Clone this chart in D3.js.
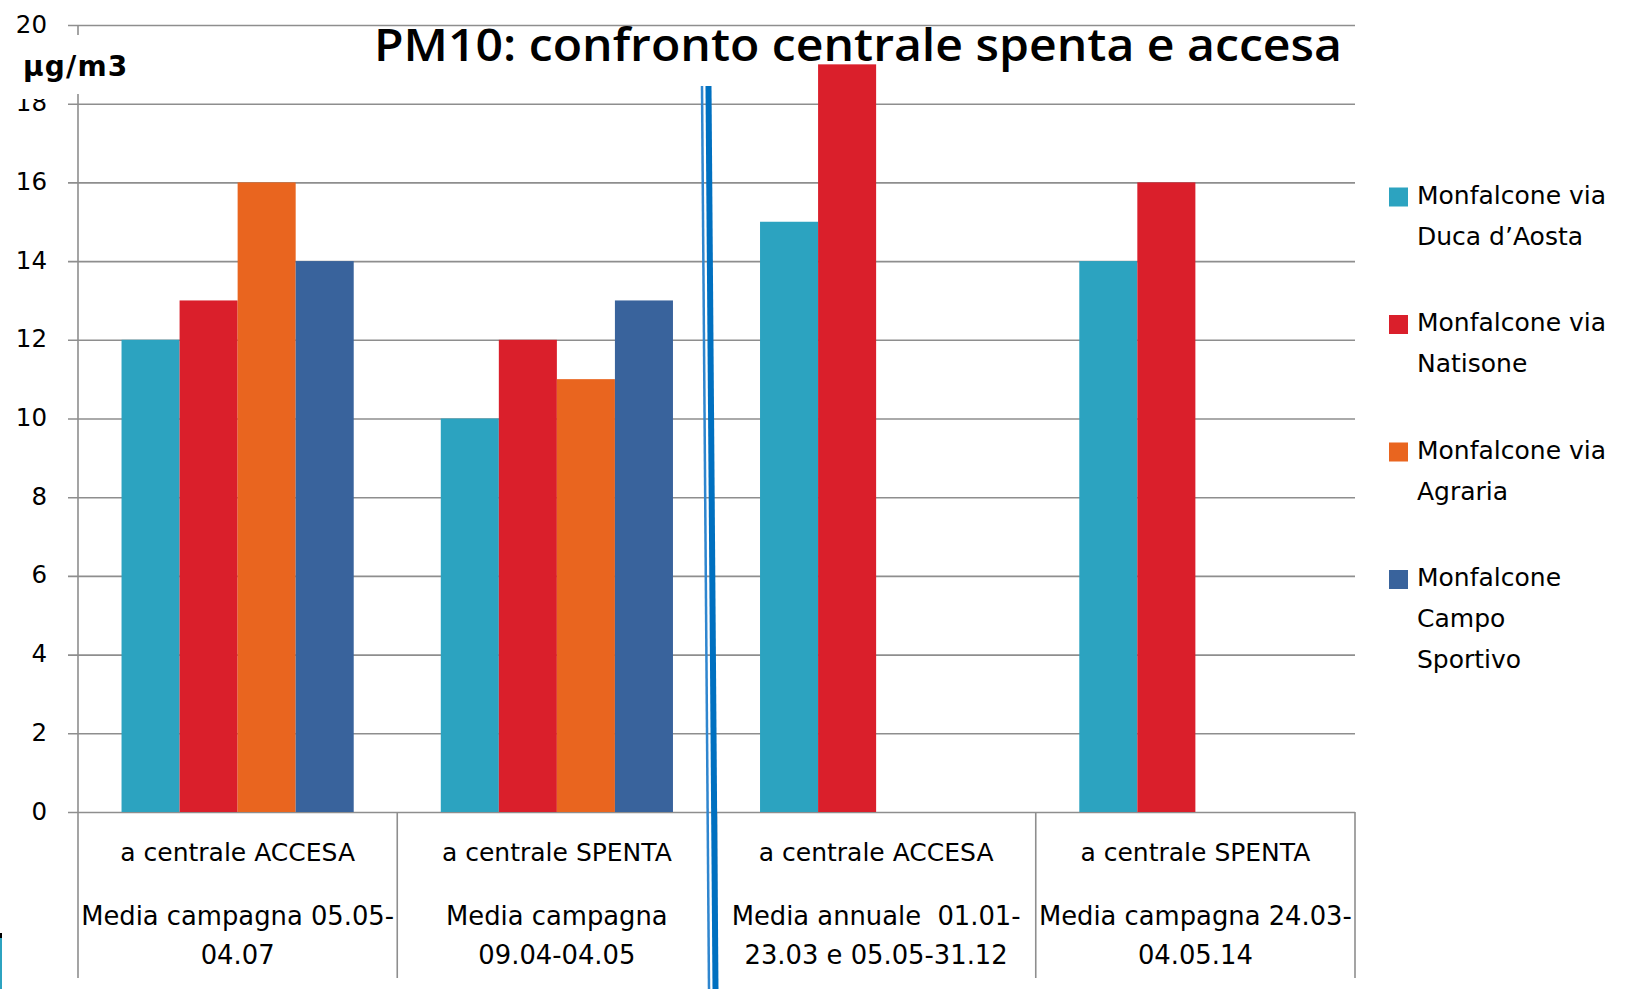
<!DOCTYPE html>
<html>
<head>
<meta charset="utf-8">
<script src="https://cdn.jsdelivr.net/npm/d3@7"></script>
<style>
  body { margin: 0; background: #fff; }
  svg { display: block; }
  text { font-family: "DejaVu Sans", sans-serif; fill: #000; }
</style>
</head>
<body>
<svg></svg>
<script>

const categories = ["g1", "g2", "g3", "g4"]

const category_lines = [
  ["a centrale ACCESA", "Media campagna 05.05-", "04.07"],
  ["a centrale SPENTA", "Media campagna", "09.04-04.05"],
  ["a centrale ACCESA", "Media annuale  01.01-", "23.03 e 05.05-31.12"],
  ["a centrale SPENTA", "Media campagna 24.03-", "04.05.14"]
]

const series = ["duca", "natisone", "agraria", "campo"]

const series_labels = [
  ["Monfalcone via", "Duca d\u2019Aosta"],
  ["Monfalcone via", "Natisone"],
  ["Monfalcone via", "Agraria"],
  ["Monfalcone", "Campo", "Sportivo"]
]

// one value per category, null = no bar
const duca     = [12, 10, 15, 14]
const natisone = [13, 12, 19, 16]
const agraria  = [16, 11, null, null]
const campo    = [14, 13, null, null]

const y_ticks = [0, 2, 4, 6, 8, 10, 12, 14, 16, 18, 20]

const colors = ["#2ca3c0", "#da1f2b", "#e9651f", "#39639c"]

const values = [duca, natisone, agraria, campo]
const rows = []
categories.forEach((c, i) => {
  series.forEach((s, j) => {
    if (values[j][i] != null) rows.push({ cat: c, ser: s, value: values[j][i] })
  })
})

const width = 1628,
      height = 989

const svg = d3.select("svg")
  .attr("width", width)
  .attr("height", height)

const x0 = d3.scaleBand()
  .domain(categories)
  .range([78, 1355])
  .padding(0)

const x1 = d3.scaleBand()
  .domain(series)
  .range([0, x0.bandwidth()])
  .paddingInner(0)
  .paddingOuter(0.75)

const y = d3.scaleLinear()
  .domain([0, 20])
  .range([812, 25])

const color = d3.scaleOrdinal().domain(series).range(colors)

const grid_color = "#8e8e8e"

// horizontal gridlines + outward ticks (axis drawn from the right edge)
const yAxis = d3.axisLeft(y)
  .tickValues(y_ticks)
  .tickSize(1355 - 68)
  .tickFormat("")

svg.append("g")
  .attr("transform", "translate(1355, 0)")
  .call(yAxis)
  .call(g => g.select(".domain").remove())
  .call(g => g.selectAll(".tick line").attr("stroke", grid_color).attr("stroke-width", 1.6))

// tick labels
svg.append("g")
  .selectAll("text")
  .data(y_ticks)
  .join("text")
    .attr("x", 47)
    .attr("y", d => y(d))
    .attr("dy", "0.31em")
    .attr("text-anchor", "end")
    .attr("font-size", 24.5)
    .text(d => d)

// y axis line and category separators
svg.append("line")
  .attr("x1", 78).attr("x2", 78)
  .attr("y1", 25).attr("y2", 978)
  .attr("stroke", grid_color).attr("stroke-width", 1.6)

svg.append("g")
  .selectAll("line")
  .data(categories.slice(1).map(c => x0(c)).concat([x0.range()[1]]))
  .join("line")
    .attr("x1", d => d).attr("x2", d => d)
    .attr("y1", y(0)).attr("y2", 978)
    .attr("stroke", grid_color).attr("stroke-width", 1.6)

// bars
svg.append("g")
  .selectAll("rect")
  .data(rows)
  .join("rect")
    .attr("x", d => x0(d.cat) + x1(d.ser))
    .attr("y", d => y(d.value))
    .attr("width", x1.bandwidth())
    .attr("height", d => y(0) - y(d.value))
    .attr("fill", d => color(d.ser))

// category labels
const line_dy = [852, 916, 955]
const cat_g = svg.append("g")
categories.forEach((c, i) => {
  cat_g.selectAll(null)
    .data(category_lines[i])
    .join("text")
      .attr("x", x0(c) + x0.bandwidth() / 2)
      .attr("y", (d, k) => line_dy[k])
      .attr("dy", "0.35em")
      .attr("text-anchor", "middle")
      .attr("font-size", (d, k) => k == 0 ? 25 : 25.8)
      .style("white-space", "pre")
      .text(d => d)
})

// unit label with white box over the axis (it also clips the top of "18")
svg.append("rect")
  .attr("x", 8).attr("y", 35)
  .attr("width", 128).attr("height", 59)
  .attr("fill", "#fff")
svg.append("rect")
  .attr("x", 8).attr("y", 93)
  .attr("width", 52).attr("height", 6)
  .attr("fill", "#fff")

svg.append("text")
  .attr("x", 23)
  .attr("y", 76)
  .attr("font-size", 28)
  .attr("font-weight", "bold")
  .attr("letter-spacing", 1.2)
  .text("\u00b5g/m3")

// title
svg.append("text")
  .attr("x", 374)
  .attr("y", 61)
  .attr("font-size", 46)
  .attr("font-weight", 600)
  .attr("textLength", 968)
  .attr("lengthAdjust", "spacingAndGlyphs")
  .style("font-family", "'Open Sans', sans-serif")
  .text("PM10: confronto centrale spenta e accesa")

// double blue divider line
svg.append("line")
  .attr("x1", 702).attr("y1", 86)
  .attr("x2", 709).attr("y2", 989)
  .attr("stroke", "#2f86cf").attr("stroke-width", 2.5)

svg.append("line")
  .attr("x1", 708.5).attr("y1", 86)
  .attr("x2", 715.5).attr("y2", 989)
  .attr("stroke", "#0070c0").attr("stroke-width", 6)

// legend
const legend = svg.append("g")
series.forEach((s, i) => {
  const top = 195 + i * 127.5
  legend.append("rect")
    .attr("x", 1389)
    .attr("y", top + 2 - 9.5)
    .attr("width", 19)
    .attr("height", 19)
    .attr("fill", color(s))
  legend.selectAll(null)
    .data(series_labels[i])
    .join("text")
      .attr("x", 1417)
      .attr("y", (d, k) => top + k * 41)
      .attr("dy", "0.35em")
      .attr("font-size", 25)
      .text(d => d)
})

// stray edge mark at the bottom left
svg.append("rect").attr("x", 0).attr("y", 933).attr("width", 2).attr("height", 56).attr("fill", "#2ca3c0")
svg.append("rect").attr("x", 0).attr("y", 933).attr("width", 2).attr("height", 5).attr("fill", "#000")

</script>
</body>
</html>
